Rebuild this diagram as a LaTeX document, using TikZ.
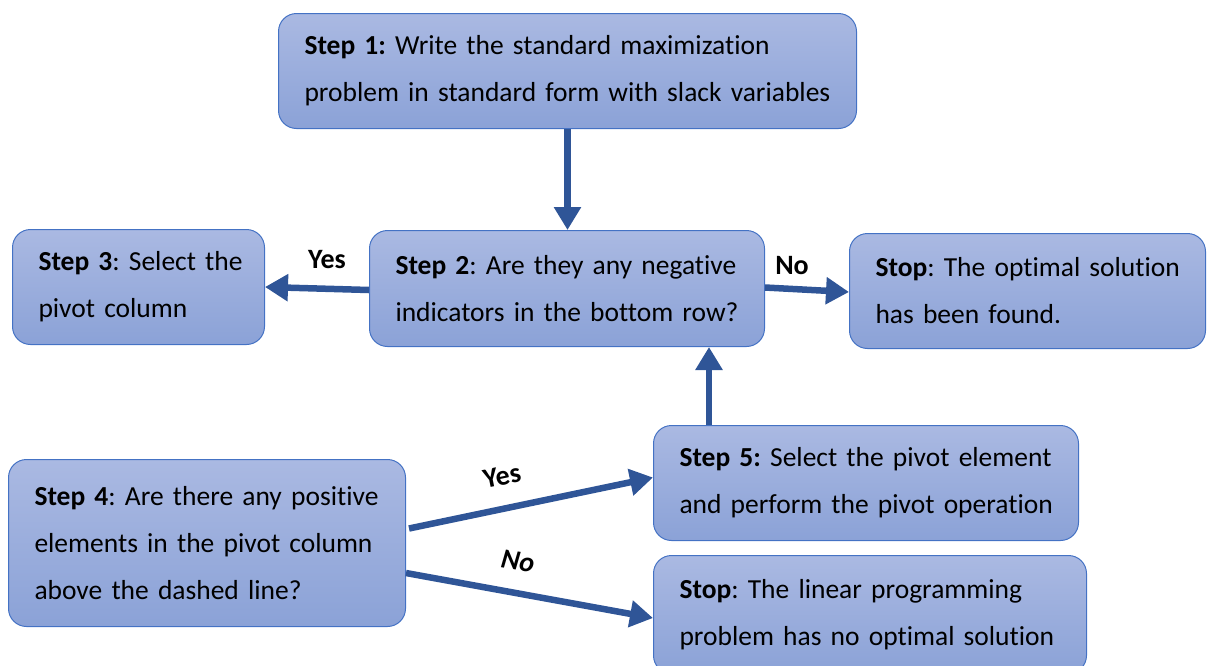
\documentclass[tikz,border=0pt]{standalone}
\usepackage{fontspec}
\setmainfont{Carlito}[Ligatures=NoCommon]
\usetikzlibrary{arrows.meta,calc}
\definecolor{boxtop}{HTML}{AAB9E2}
\definecolor{boxbot}{HTML}{8BA2D7}
\definecolor{boxedge}{HTML}{4472C4}
\definecolor{arrowblue}{HTML}{2F5597}
\tikzset{
  flowbox/.style={draw=boxedge, line width=1pt, rounded corners=18pt,
    top color=boxtop, bottom color=boxbot, inner xsep=26pt, inner ysep=0pt,
    align=left, font=\fontsize{27.5}{47}\selectfont, anchor=north west},
  flowarrow/.style={draw=arrowblue, line width=6.5pt,
    -{Triangle[width=26pt,length=23pt]}},
  decision/.style={font=\fontsize{28}{30}\selectfont\bfseries, inner sep=0pt}
}
\frenchspacing
\begin{document}
\begin{tikzpicture}[x=1pt,y=-1pt]
\useasboundingbox (0,0) rectangle (1208,665);
% boxes: position is the top-left corner, size set by width and height;
% every line is kept whole in an \mbox
\node[flowbox, text width=526pt, minimum height=115pt] (step1) at (278,13)
  {\mbox{\textbf{Step 1:} Write the standard maximization}\\\mbox{problem in standard form with slack variables}};
\node[flowbox, text width=343pt, minimum height=116pt] (step2) at (369,230)
  {\mbox{\textbf{Step 2}: Are they any negative}\\\mbox{indicators in the bottom row?}};
\node[flowbox, text width=200pt, minimum height=115pt] (step3) at (12,229)
  {\mbox{\textbf{Step 3}: Select the}\\\mbox{pivot column}};
\node[flowbox, text width=304pt, minimum height=115pt] (stop1) at (849,233)
  {\mbox{\textbf{Stop}: The optimal solution}\\\mbox{has been found.}};
\node[flowbox, text width=373pt, minimum height=115pt] (step5) at (653,425)
  {\mbox{\textbf{Step 5:} Select the pivot element}\\\mbox{and perform the pivot operation}};
\node[flowbox, text width=345pt, minimum height=167pt] (step4) at (8,459)
  {\mbox{\textbf{Step 4}: Are there any positive}\\\mbox{elements in the pivot column}\\\mbox{above the dashed line?}};
\node[flowbox, text width=381pt, minimum height=118pt] (stop2) at (653,555)
  {\mbox{\textbf{Stop}: The linear programming}\\\mbox{problem has no optimal solution}};

% connectors
\draw[flowarrow] (step1.south) -- (step2.north -| step1.south);
\draw[flowarrow] ([yshift=-1.5pt]step2.west) -- ([yshift=0pt]step3.east);
\draw[flowarrow] ([yshift=1pt]step2.east) -- ([yshift=-1pt]stop1.west);
\coordinate (up) at ($(step5.north west)+(56,0)$);
\draw[flowarrow] (up) -- (step2.south -| up);
\draw[flowarrow] ([xshift=3pt,yshift=14.5pt]step4.east) -- ([yshift=5.5pt]step5.west);
\draw[flowarrow] ([yshift=-30pt]step4.east) -- ([yshift=-3.5pt]stop2.west);

% branch labels
\node[decision] (lyes1) at (327,260) {Yes};
\node[decision] (lno1) at (792,266) {No};
\node[decision, rotate=11.7] (lyes2) at (502,476) {Yes};
\node[decision, rotate=-9, font=\fontsize{28}{30}\selectfont\bfseries\itshape] (lno2) at (518,561) {No};
\end{tikzpicture}
\end{document}
